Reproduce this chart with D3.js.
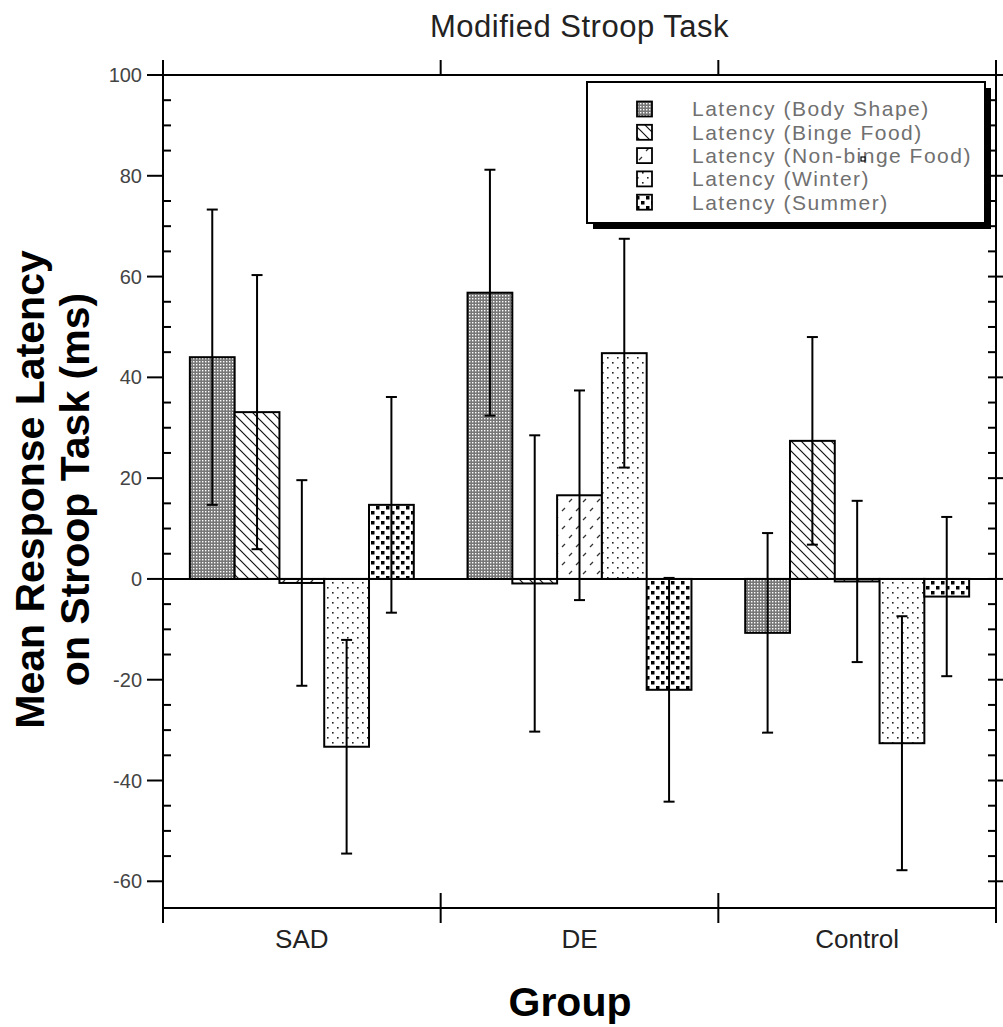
<!DOCTYPE html>
<html>
<head>
<meta charset="utf-8">
<script src="https://cdn.jsdelivr.net/npm/d3@7"></script>
<style>
  body { margin: 0; background: #fff; }
  svg { display: block; font-family: Arial, "Liberation Sans", sans-serif; }
</style>
</head>
<body>
<div id="chart"></div>
<script>
// Chart values

const groups = ["SAD", "DE", "Control"];

const seriesNames = [
    "Latency (Body Shape)",
    "Latency (Binge Food)",
    "Latency (Non-binge Food)",
    "Latency (Winter)",
    "Latency (Summer)"
];

const bodyShape = [44.0, 56.8, -10.7];
const bingeFood = [33.1, -0.9, 27.4];
const nonBingeFood = [-0.8, 16.6, -0.5];
const winter = [-33.3, 44.8, -32.6];
const summer = [14.7, -22.0, -3.5];

const bodyShapeErr = [29.3, 24.4, 19.8];
const bingeFoodErr = [27.2, 29.4, 20.6];
const nonBingeFoodErr = [20.4, 20.8, 16.0];
const winterErr = [21.2, 22.7, 25.2];
const summerErr = [21.4, 22.2, 15.8];

const yMajorTicks = [-60, -40, -20, 0, 20, 40, 60, 80, 100];

// Layout

const width = 1003;
const height = 1027;
const plotLeft = 163, plotRight = 996, plotTop = 75, plotBottom = 908;

const seriesValues = [bodyShape, bingeFood, nonBingeFood, winter, summer];
const seriesErrors = [bodyShapeErr, bingeFoodErr, nonBingeFoodErr, winterErr, summerErr];
const patternIds = ["pBody", "pBinge", "pNonBinge", "pWinter", "pSummer"];

const y = d3.scaleLinear()
    .domain([-65.3, 100])
    .range([plotBottom, plotTop]);

const x0 = d3.scaleBand()
    .domain(groups)
    .range([plotLeft, plotRight]);

const x1 = d3.scaleBand()
    .domain(seriesNames)
    .range([0, x0.bandwidth()])
    .paddingOuter(0.6);

const svg = d3.select("#chart").append("svg")
    .attr("width", width)
    .attr("height", height);

// Fill patterns, one per series
const defs = svg.append("defs");

const pBody = defs.append("pattern").attr("id", "pBody")
    .attr("patternUnits", "userSpaceOnUse").attr("width", 3).attr("height", 3);
pBody.append("rect").attr("width", 3).attr("height", 3).attr("fill", "#777");
pBody.append("rect").attr("x", 1).attr("y", 1).attr("width", 1.4).attr("height", 1.4).attr("fill", "#fff");

const pBinge = defs.append("pattern").attr("id", "pBinge")
    .attr("patternUnits", "userSpaceOnUse").attr("width", 10).attr("height", 10);
pBinge.append("rect").attr("width", 10).attr("height", 10).attr("fill", "#fff");
pBinge.append("path").attr("d", "M-1,-1 L11,11 M-1,9 L1,11 M9,-1 L11,1")
    .attr("stroke", "#111").attr("stroke-width", 1.2);

const pNonBinge = defs.append("pattern").attr("id", "pNonBinge")
    .attr("patternUnits", "userSpaceOnUse").attr("width", 14).attr("height", 18);
pNonBinge.append("rect").attr("width", 14).attr("height", 18).attr("fill", "#fff");
pNonBinge.append("path").attr("d", "M2,7 L5,4 M9,16 L12,13")
    .attr("stroke", "#333").attr("stroke-width", 1.3);

const pWinter = defs.append("pattern").attr("id", "pWinter")
    .attr("patternUnits", "userSpaceOnUse").attr("width", 10).attr("height", 10);
pWinter.append("rect").attr("width", 10).attr("height", 10).attr("fill", "#fff");
pWinter.append("rect").attr("x", 2).attr("y", 2).attr("width", 1.6).attr("height", 1.6).attr("fill", "#222");
pWinter.append("rect").attr("x", 7).attr("y", 7).attr("width", 1.6).attr("height", 1.6).attr("fill", "#222");

const pSummer = defs.append("pattern").attr("id", "pSummer")
    .attr("patternUnits", "userSpaceOnUse").attr("width", 10).attr("height", 10);
pSummer.append("rect").attr("width", 10).attr("height", 10).attr("fill", "#fff");
pSummer.append("rect").attr("x", 1).attr("y", 1).attr("width", 3.5).attr("height", 3.5).attr("fill", "#000");
pSummer.append("rect").attr("x", 6).attr("y", 6).attr("width", 3.5).attr("height", 3.5).attr("fill", "#000");

// Title
svg.append("text")
    .attr("x", (plotLeft + plotRight) / 2)
    .attr("y", 37)
    .attr("text-anchor", "middle")
    .attr("font-size", 31)
    .attr("letter-spacing", 0.5)
    .attr("fill", "#222")
    .text("Modified Stroop Task");

// Frame
const frame = svg.append("g").attr("stroke", "#000").attr("stroke-width", 2).attr("fill", "none");
frame.append("line").attr("x1", plotLeft).attr("x2", plotRight).attr("y1", plotTop).attr("y2", plotTop);
frame.append("line").attr("x1", plotLeft).attr("x2", plotRight).attr("y1", plotBottom).attr("y2", plotBottom);
frame.append("line").attr("x1", plotLeft).attr("x2", plotLeft).attr("y1", plotTop - 15).attr("y2", plotBottom + 15);
frame.append("line").attr("x1", plotRight).attr("x2", plotRight).attr("y1", plotTop - 15).attr("y2", plotBottom + 15);

// Category boundary ticks on top and bottom
const bounds = groups.map(g => x0(g)).concat([plotRight]);
bounds.forEach(bx => {
    frame.append("line").attr("x1", bx).attr("x2", bx).attr("y1", plotTop - 15).attr("y2", plotTop);
    frame.append("line").attr("x1", bx).attr("x2", bx).attr("y1", plotBottom - 15).attr("y2", plotBottom + 15);
});

// Y ticks: majors outward with labels, minors inward
const minorTicks = d3.range(-60, 101, 5);
minorTicks.forEach(v => {
    if (!yMajorTicks.includes(v)) {
        frame.append("line").attr("x1", plotLeft).attr("x2", plotLeft + 8).attr("y1", y(v)).attr("y2", y(v));
    }
    frame.append("line").attr("x1", plotRight - 8).attr("x2", plotRight).attr("y1", y(v)).attr("y2", y(v));
});
yMajorTicks.forEach(v => {
    frame.append("line").attr("x1", plotLeft - 16).attr("x2", plotLeft).attr("y1", y(v)).attr("y2", y(v));
    frame.append("line").attr("x1", plotRight).attr("x2", plotRight + 16).attr("y1", y(v)).attr("y2", y(v));
});

svg.append("g")
    .selectAll("text")
    .data(yMajorTicks)
    .enter()
    .append("text")
    .attr("x", plotLeft - 21)
    .attr("y", d => y(d))
    .attr("dy", "0.35em")
    .attr("text-anchor", "end")
    .attr("font-size", 20)
    .attr("fill", "#444")
    .text(d => d);

// Category labels
svg.append("g")
    .selectAll("text")
    .data(groups)
    .enter()
    .append("text")
    .attr("x", d => x0(d) + x0.bandwidth() / 2)
    .attr("y", plotBottom + 40)
    .attr("text-anchor", "middle")
    .attr("font-size", 26)
    .attr("fill", "#222")
    .text(d => d);

// Bars
const barData = [];
groups.forEach((g, gi) => {
    seriesNames.forEach((s, si) => {
        barData.push({
            group: g,
            series: s,
            value: seriesValues[si][gi],
            err: seriesErrors[si][gi],
            pattern: patternIds[si]
        });
    });
});

svg.append("g")
    .selectAll("rect")
    .data(barData)
    .enter()
    .append("rect")
    .attr("x", d => x0(d.group) + x1(d.series))
    .attr("y", d => y(Math.max(0, d.value)))
    .attr("width", x1.bandwidth())
    .attr("height", d => Math.abs(y(d.value) - y(0)))
    .attr("fill", d => "url(#" + d.pattern + ")")
    .attr("stroke", "#000")
    .attr("stroke-width", 2);

// Zero line
svg.append("line")
    .attr("x1", plotLeft).attr("x2", plotRight)
    .attr("y1", y(0)).attr("y2", y(0))
    .attr("stroke", "#000").attr("stroke-width", 2);

// Error bars
const errG = svg.append("g").attr("stroke", "#000").attr("stroke-width", 2);
barData.forEach(d => {
    const cx = x0(d.group) + x1(d.series) + x1.bandwidth() / 2;
    const hi = y(d.value + d.err);
    const lo = y(d.value - d.err);
    errG.append("line").attr("x1", cx).attr("x2", cx).attr("y1", hi).attr("y2", lo);
    errG.append("line").attr("x1", cx - 5.5).attr("x2", cx + 5.5).attr("y1", hi).attr("y2", hi);
    errG.append("line").attr("x1", cx - 5.5).attr("x2", cx + 5.5).attr("y1", lo).attr("y2", lo);
});

// Legend with drop shadow
const legend = svg.append("g");
legend.append("rect")
    .attr("x", 593).attr("y", 88).attr("width", 398).attr("height", 141)
    .attr("fill", "#000");
legend.append("rect")
    .attr("x", 587).attr("y", 82).attr("width", 398).attr("height", 141)
    .attr("fill", "#fff").attr("stroke", "#000").attr("stroke-width", 2);

seriesNames.forEach((s, i) => {
    const rowY = 109 + i * 23.3;
    legend.append("rect")
        .attr("x", 637).attr("y", rowY - 7.5)
        .attr("width", 15).attr("height", 15)
        .attr("fill", "url(#" + patternIds[i] + ")")
        .attr("stroke", "#000").attr("stroke-width", 1.8);
    legend.append("text")
        .attr("x", 692).attr("y", rowY)
        .attr("dy", "0.35em")
        .attr("font-size", 21)
        .attr("letter-spacing", 1.5)
        .attr("fill", "#707070")
        .text(s);
});
// small stray square inside the legend text in the original
legend.append("rect")
    .attr("x", 861).attr("y", 157).attr("width", 4).attr("height", 4)
    .attr("fill", "#fff").attr("stroke", "#000").attr("stroke-width", 1.2);

// Axis titles
const yTitle = svg.append("text")
    .attr("transform", "translate(44," + ((plotTop + plotBottom) / 2 - 2) + ") rotate(-90)")
    .attr("text-anchor", "middle")
    .attr("font-size", 41)
    .attr("font-weight", "bold")
    .attr("fill", "#000");
yTitle.append("tspan").attr("x", 0).attr("y", 0).text("Mean Response Latency");
yTitle.append("tspan").attr("x", 0).attr("y", 45).text("on Stroop Task (ms)");

svg.append("text")
    .attr("x", 570)
    .attr("y", 1016)
    .attr("text-anchor", "middle")
    .attr("font-size", 41)
    .attr("font-weight", "bold")
    .attr("fill", "#000")
    .text("Group");
</script>
</body>
</html>
